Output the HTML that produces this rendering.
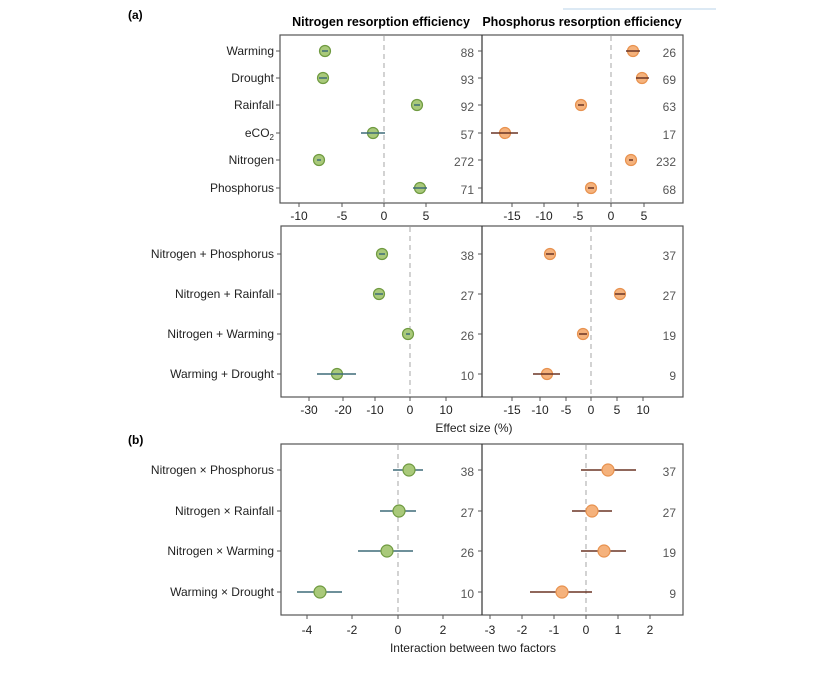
<!DOCTYPE html>
<html><head><meta charset="utf-8"><style>
html,body{margin:0;padding:0;background:#fff;}
svg{display:block;font-family:"Liberation Sans",Arial,sans-serif;}
.yl{font-size:12px;fill:#222;text-anchor:end;}
.xl{font-size:12px;fill:#222;text-anchor:middle;}
.n{font-size:12px;fill:#555;text-anchor:end;}
.box{fill:none;stroke:#555;stroke-width:1.2;}
.dash{stroke:#bbb;stroke-width:1.3;stroke-dasharray:5,4;}
.tk{stroke:#555;stroke-width:1;}
.g{fill:#a9c97a;stroke:#6f9a40;stroke-width:1.2;}
.o{fill:#f5b27c;stroke:#e8924f;stroke-width:1.2;}
.cg{stroke:#3e6c78;stroke-width:1.5;}
.co{stroke:#6b3525;stroke-width:1.5;}
</style></head><body>
<svg width="839" height="673" viewBox="0 0 839 673">
<line x1="563" y1="9" x2="716" y2="9" stroke="#b9d3ea" stroke-width="1"/>
<text x="128" y="19" font-size="12" font-weight="bold">(a)</text>
<text x="381" y="26" font-size="12.5" font-weight="bold" text-anchor="middle">Nitrogen resorption efficiency</text>
<text x="582" y="26" font-size="12.5" font-weight="bold" text-anchor="middle">Phosphorus resorption efficiency</text>

<!-- Panel 1 -->
<rect class="box" x="280" y="35" width="403" height="168"/>
<line x1="482" y1="35" x2="482" y2="203" stroke="#333" stroke-width="1.2"/>
<line class="dash" x1="384" y1="36" x2="384" y2="202"/>
<line class="dash" x1="611" y1="36" x2="611" y2="202"/>
<g class="tk">
<line x1="276" y1="51" x2="280" y2="51"/><line x1="276" y1="78" x2="280" y2="78"/><line x1="276" y1="105" x2="280" y2="105"/><line x1="276" y1="133" x2="280" y2="133"/><line x1="276" y1="160" x2="280" y2="160"/><line x1="276" y1="188" x2="280" y2="188"/>
<line x1="478" y1="51" x2="482" y2="51"/><line x1="478" y1="78" x2="482" y2="78"/><line x1="478" y1="105" x2="482" y2="105"/><line x1="478" y1="133" x2="482" y2="133"/><line x1="478" y1="160" x2="482" y2="160"/><line x1="478" y1="188" x2="482" y2="188"/>
<line x1="299" y1="203" x2="299" y2="207"/><line x1="342" y1="203" x2="342" y2="207"/><line x1="384" y1="203" x2="384" y2="207"/><line x1="426" y1="203" x2="426" y2="207"/>
<line x1="512" y1="203" x2="512" y2="207"/><line x1="544" y1="203" x2="544" y2="207"/><line x1="578" y1="203" x2="578" y2="207"/><line x1="611" y1="203" x2="611" y2="207"/><line x1="644" y1="203" x2="644" y2="207"/>
</g>
<text class="yl" x="274" y="55">Warming</text>
<text class="yl" x="274" y="82">Drought</text>
<text class="yl" x="274" y="109">Rainfall</text>
<text class="yl" x="274" y="137">eCO<tspan font-size="8" dy="3">2</tspan></text>
<text class="yl" x="274" y="164">Nitrogen</text>
<text class="yl" x="274" y="192">Phosphorus</text>
<text class="xl" x="299" y="220">-10</text><text class="xl" x="342" y="220">-5</text><text class="xl" x="384" y="220">0</text><text class="xl" x="426" y="220">5</text>
<text class="xl" x="512" y="220">-15</text><text class="xl" x="544" y="220">-10</text><text class="xl" x="578" y="220">-5</text><text class="xl" x="611" y="220">0</text><text class="xl" x="644" y="220">5</text>
<text class="n" x="474" y="57">88</text><text class="n" x="474" y="84">93</text><text class="n" x="474" y="111">92</text><text class="n" x="474" y="139">57</text><text class="n" x="474" y="166">272</text><text class="n" x="474" y="194">71</text>
<text class="n" x="676" y="57">26</text><text class="n" x="676" y="84">69</text><text class="n" x="676" y="111">63</text><text class="n" x="676" y="139">17</text><text class="n" x="676" y="166">232</text><text class="n" x="676" y="194">68</text>
<circle class="g" cx="325" cy="51" r="5.5"/><circle class="g" cx="323" cy="78" r="5.5"/><circle class="g" cx="417" cy="105" r="5.5"/><circle class="g" cx="373" cy="133" r="5.5"/><circle class="g" cx="319" cy="160" r="5.5"/><circle class="g" cx="420" cy="188" r="5.5"/>
<g class="cg"><line x1="322" y1="51" x2="328" y2="51"/><line x1="319" y1="78" x2="327" y2="78"/><line x1="414" y1="105" x2="420" y2="105"/><line x1="361" y1="133" x2="385" y2="133"/><line x1="317" y1="160" x2="321" y2="160"/><line x1="413" y1="188" x2="427" y2="188"/></g>
<circle class="o" cx="633" cy="51" r="5.5"/><circle class="o" cx="642" cy="78" r="5.5"/><circle class="o" cx="581" cy="105" r="5.5"/><circle class="o" cx="505" cy="133" r="5.5"/><circle class="o" cx="631" cy="160" r="5.5"/><circle class="o" cx="591" cy="188" r="5.5"/>
<g class="co"><line x1="626" y1="51" x2="640" y2="51"/><line x1="636" y1="78" x2="649" y2="78"/><line x1="578" y1="105" x2="584" y2="105"/><line x1="491" y1="133" x2="518" y2="133"/><line x1="629" y1="160" x2="633" y2="160"/><line x1="588" y1="188" x2="594" y2="188"/></g>

<!-- Panel 2 -->
<rect class="box" x="281" y="226" width="402" height="171"/>
<line x1="482" y1="226" x2="482" y2="397" stroke="#333" stroke-width="1.2"/>
<line class="dash" x1="410" y1="227" x2="410" y2="396"/>
<line class="dash" x1="591" y1="227" x2="591" y2="396"/>
<g class="tk">
<line x1="277" y1="254" x2="281" y2="254"/><line x1="277" y1="294" x2="281" y2="294"/><line x1="277" y1="334" x2="281" y2="334"/><line x1="277" y1="374" x2="281" y2="374"/>
<line x1="478" y1="254" x2="482" y2="254"/><line x1="478" y1="294" x2="482" y2="294"/><line x1="478" y1="334" x2="482" y2="334"/><line x1="478" y1="374" x2="482" y2="374"/>
<line x1="309" y1="397" x2="309" y2="401"/><line x1="343" y1="397" x2="343" y2="401"/><line x1="375" y1="397" x2="375" y2="401"/><line x1="410" y1="397" x2="410" y2="401"/><line x1="446" y1="397" x2="446" y2="401"/>
<line x1="512" y1="397" x2="512" y2="401"/><line x1="540" y1="397" x2="540" y2="401"/><line x1="566" y1="397" x2="566" y2="401"/><line x1="591" y1="397" x2="591" y2="401"/><line x1="617" y1="397" x2="617" y2="401"/><line x1="643" y1="397" x2="643" y2="401"/>
</g>
<text class="yl" x="274" y="258">Nitrogen + Phosphorus</text>
<text class="yl" x="274" y="298">Nitrogen + Rainfall</text>
<text class="yl" x="274" y="338">Nitrogen + Warming</text>
<text class="yl" x="274" y="378">Warming + Drought</text>
<text class="xl" x="309" y="414">-30</text><text class="xl" x="343" y="414">-20</text><text class="xl" x="375" y="414">-10</text><text class="xl" x="410" y="414">0</text><text class="xl" x="446" y="414">10</text>
<text class="xl" x="512" y="414">-15</text><text class="xl" x="540" y="414">-10</text><text class="xl" x="566" y="414">-5</text><text class="xl" x="591" y="414">0</text><text class="xl" x="617" y="414">5</text><text class="xl" x="643" y="414">10</text>
<text class="xl" x="474" y="432">Effect size (%)</text>
<text class="n" x="474" y="260">38</text><text class="n" x="474" y="300">27</text><text class="n" x="474" y="340">26</text><text class="n" x="474" y="380">10</text>
<text class="n" x="676" y="260">37</text><text class="n" x="676" y="300">27</text><text class="n" x="676" y="340">19</text><text class="n" x="676" y="380">9</text>
<circle class="g" cx="382" cy="254" r="5.5"/><circle class="g" cx="379" cy="294" r="5.5"/><circle class="g" cx="408" cy="334" r="5.5"/><circle class="g" cx="337" cy="374" r="5.5"/>
<g class="cg"><line x1="379" y1="254" x2="385" y2="254"/><line x1="375" y1="294" x2="383" y2="294"/><line x1="406" y1="334" x2="410" y2="334"/><line x1="317" y1="374" x2="356" y2="374"/></g>
<circle class="o" cx="550" cy="254" r="5.5"/><circle class="o" cx="620" cy="294" r="5.5"/><circle class="o" cx="583" cy="334" r="5.5"/><circle class="o" cx="547" cy="374" r="5.5"/>
<g class="co"><line x1="546" y1="254" x2="554" y2="254"/><line x1="615" y1="294" x2="625" y2="294"/><line x1="579" y1="334" x2="587" y2="334"/><line x1="533" y1="374" x2="560" y2="374"/></g>

<!-- Panel 3 -->
<text x="128" y="444" font-size="12" font-weight="bold">(b)</text>
<rect class="box" x="281" y="444" width="402" height="171"/>
<line x1="482" y1="444" x2="482" y2="615" stroke="#333" stroke-width="1.2"/>
<line class="dash" x1="398" y1="445" x2="398" y2="614"/>
<line class="dash" x1="586" y1="445" x2="586" y2="614"/>
<g class="tk">
<line x1="277" y1="470" x2="281" y2="470"/><line x1="277" y1="511" x2="281" y2="511"/><line x1="277" y1="551" x2="281" y2="551"/><line x1="277" y1="592" x2="281" y2="592"/>
<line x1="478" y1="470" x2="482" y2="470"/><line x1="478" y1="511" x2="482" y2="511"/><line x1="478" y1="551" x2="482" y2="551"/><line x1="478" y1="592" x2="482" y2="592"/>
<line x1="307" y1="615" x2="307" y2="619"/><line x1="352" y1="615" x2="352" y2="619"/><line x1="398" y1="615" x2="398" y2="619"/><line x1="443" y1="615" x2="443" y2="619"/>
<line x1="490" y1="615" x2="490" y2="619"/><line x1="522" y1="615" x2="522" y2="619"/><line x1="554" y1="615" x2="554" y2="619"/><line x1="586" y1="615" x2="586" y2="619"/><line x1="618" y1="615" x2="618" y2="619"/><line x1="650" y1="615" x2="650" y2="619"/>
</g>
<text class="yl" x="274" y="474">Nitrogen × Phosphorus</text>
<text class="yl" x="274" y="515">Nitrogen × Rainfall</text>
<text class="yl" x="274" y="555">Nitrogen × Warming</text>
<text class="yl" x="274" y="596">Warming × Drought</text>
<text class="xl" x="307" y="634">-4</text><text class="xl" x="352" y="634">-2</text><text class="xl" x="398" y="634">0</text><text class="xl" x="443" y="634">2</text>
<text class="xl" x="490" y="634">-3</text><text class="xl" x="522" y="634">-2</text><text class="xl" x="554" y="634">-1</text><text class="xl" x="586" y="634">0</text><text class="xl" x="618" y="634">1</text><text class="xl" x="650" y="634">2</text>
<text class="xl" x="473" y="652">Interaction between two factors</text>
<text class="n" x="474" y="476">38</text><text class="n" x="474" y="517">27</text><text class="n" x="474" y="557">26</text><text class="n" x="474" y="598">10</text>
<text class="n" x="676" y="476">37</text><text class="n" x="676" y="517">27</text><text class="n" x="676" y="557">19</text><text class="n" x="676" y="598">9</text>
<g class="cg"><line x1="393" y1="470" x2="423" y2="470"/><line x1="380" y1="511" x2="416" y2="511"/><line x1="358" y1="551" x2="413" y2="551"/><line x1="297" y1="592" x2="342" y2="592"/></g>
<circle class="g" cx="409" cy="470" r="6"/><circle class="g" cx="399" cy="511" r="6"/><circle class="g" cx="387" cy="551" r="6"/><circle class="g" cx="320" cy="592" r="6"/>
<g class="co"><line x1="581" y1="470" x2="636" y2="470"/><line x1="572" y1="511" x2="612" y2="511"/><line x1="581" y1="551" x2="626" y2="551"/><line x1="530" y1="592" x2="592" y2="592"/></g>
<circle class="o" cx="608" cy="470" r="6"/><circle class="o" cx="592" cy="511" r="6"/><circle class="o" cx="604" cy="551" r="6"/><circle class="o" cx="562" cy="592" r="6"/>
</svg>
</body></html>
